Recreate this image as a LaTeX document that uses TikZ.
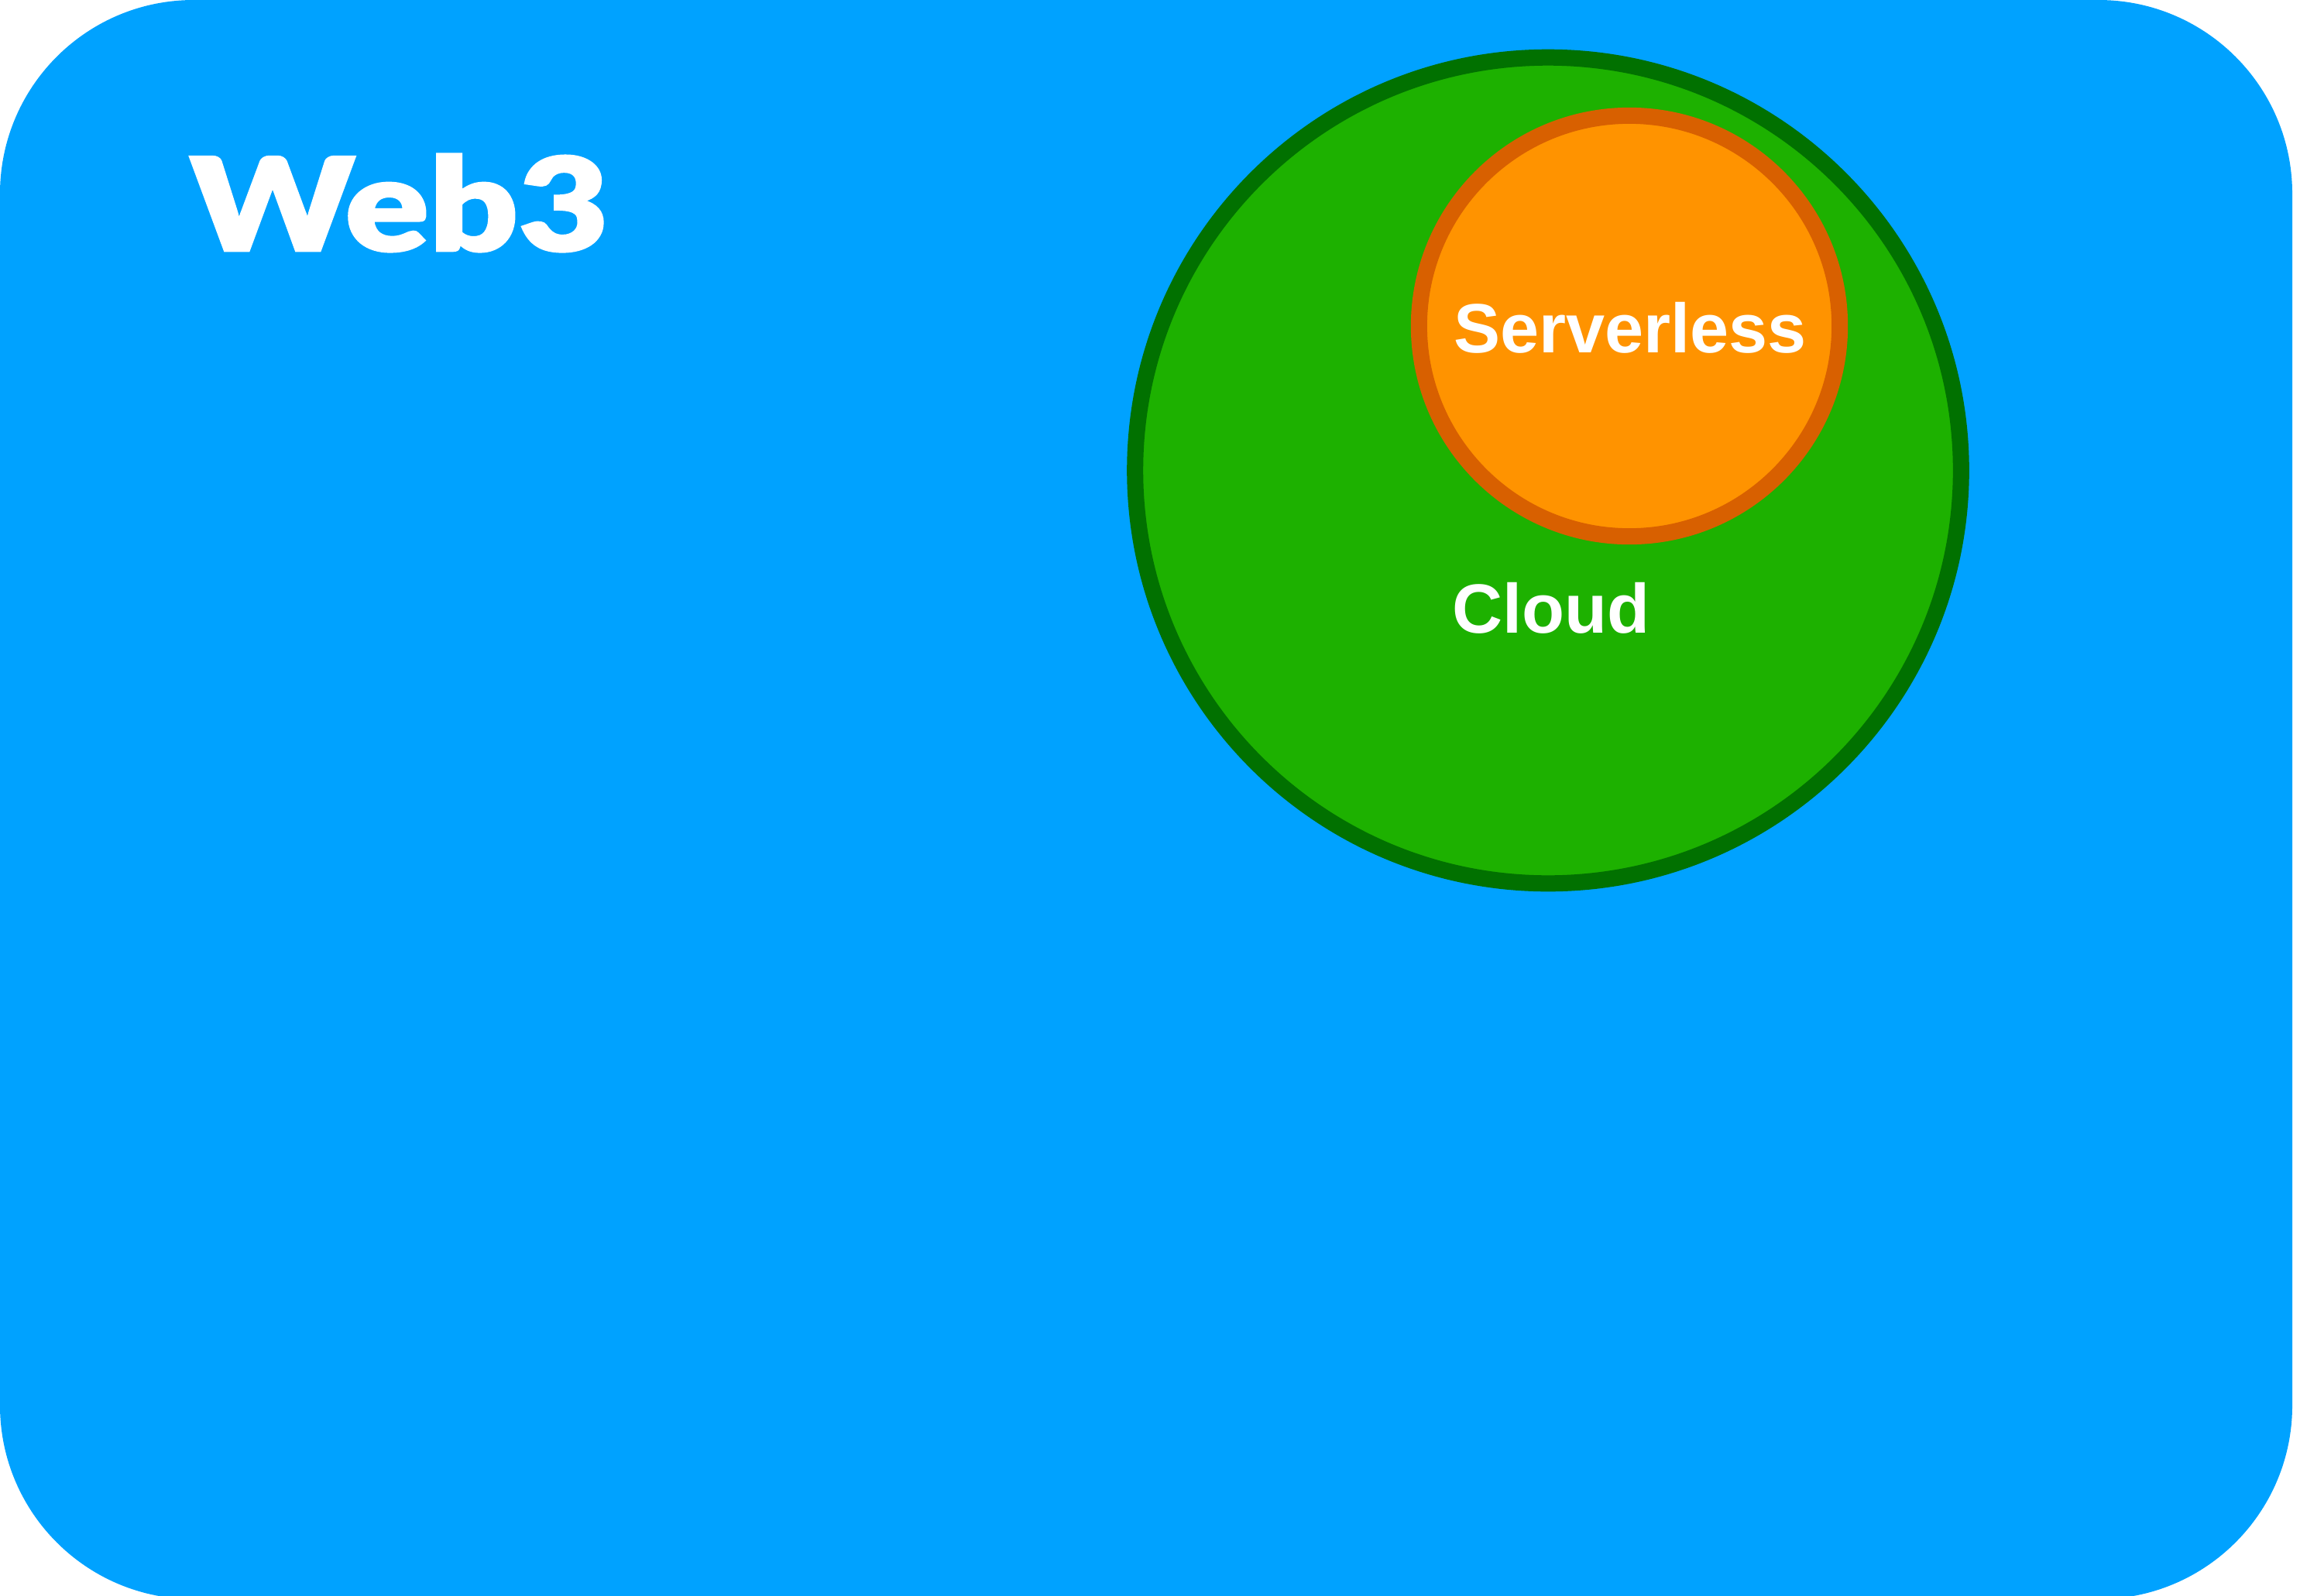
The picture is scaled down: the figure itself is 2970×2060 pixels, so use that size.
\documentclass[tikz,border=0pt]{standalone}
\usepackage{fontspec}
\setmainfont{Liberation Sans}
\newfontfamily\webfont{Lato Black}[FakeBold=1.5]
\definecolor{skyblue}{RGB}{0,162,255}
\definecolor{cloudfill}{RGB}{29,177,0}
\definecolor{cloudline}{RGB}{1,113,0}
\definecolor{slfill}{RGB}{255,147,0}
\definecolor{slline}{RGB}{216,96,0}
\tikzset{
  lbl/.style={text=white, inner sep=0pt, anchor=base, font=\bfseries\fontsize{25.6pt}{30pt}\selectfont},
  circ/.style={circle, line width=0.21cm, inner sep=0pt}
}
\begin{document}
\begin{tikzpicture}[x=0.01cm, y=-0.01cm]
\useasboundingbox (0,0) rectangle (2970,2060);
\fill[skyblue, rounded corners=2.5cm] (0,0) rectangle (2960,2065);
\node[text=white, inner sep=0pt, anchor=base west, xscale=1.2, font=\webfont\fontsize{47.6pt}{50pt}\selectfont] (web) at (244,324) {Web3};
\node[circ, draw=cloudline, fill=cloudfill, minimum size=10.66cm] (cloud) at (1999,607.5) {};
\node[circ, draw=slline, fill=slfill, minimum size=5.43cm] (sl) at (2104,421) {};
\node[lbl] (sltext) at (2105,455) {Serverless};
\node[lbl] (cloudtext) at (2003,817) {Cloud};
\end{tikzpicture}
\end{document}
